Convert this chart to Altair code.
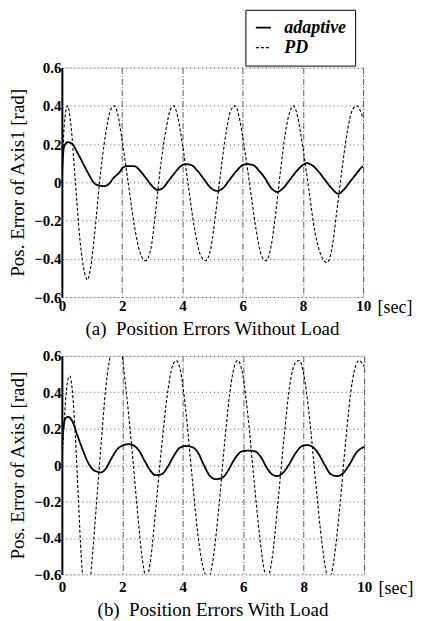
import altair as alt
import pandas as pd

# ---------- data ----------
# (a) without load
a_pd_t = [0, 0.08, 0.19, 0.3, 0.45, 0.6, 0.75, 0.85, 0.95, 1.1, 1.25, 1.45, 1.6, 1.73, 1.85, 2.0, 2.2, 2.4, 2.6, 2.78,
          2.95, 3.1, 3.25, 3.45, 3.6, 3.71, 3.85, 4.0, 4.2, 4.4, 4.6, 4.77, 4.95, 5.1, 5.27, 5.45, 5.62, 5.76, 5.9, 6.05,
          6.25, 6.45, 6.62, 6.78, 6.95, 7.1, 7.25, 7.42, 7.57, 7.69, 7.83, 8.0, 8.2, 8.4, 8.6, 8.8, 8.97, 9.12, 9.3,
          9.48, 9.65, 9.79, 9.92, 10.0]
a_pd_v = [0.0, 0.3, 0.40, 0.3, 0.0, -0.3, -0.47, -0.51, -0.45, -0.25, 0.0, 0.25, 0.37, 0.40, 0.36, 0.22, 0.0, -0.22,
          -0.37, -0.41, -0.35, -0.17, 0.05, 0.27, 0.38, 0.40, 0.34, 0.2, -0.02, -0.24, -0.38, -0.41, -0.34, -0.17, 0.05,
          0.26, 0.38, 0.40, 0.33, 0.19, -0.03, -0.25, -0.38, -0.41, -0.33, -0.16, 0.05, 0.26, 0.37, 0.40, 0.34, 0.18,
          -0.04, -0.26, -0.38, -0.42, -0.34, -0.16, 0.07, 0.27, 0.38, 0.40, 0.37, 0.33]
a_ad_t = [0, 0.03, 0.08, 0.2, 0.35, 0.5, 0.7, 0.9, 1.05, 1.2, 1.4, 1.55, 1.7, 1.9, 2.05, 2.2, 2.4, 2.6, 2.8, 3.0, 3.17,
          3.35, 3.55, 3.75, 3.95, 4.1, 4.3, 4.5, 4.7, 4.95, 5.15, 5.35, 5.55, 5.8, 6.0, 6.15, 6.35, 6.55, 6.75, 6.95,
          7.14, 7.35, 7.55, 7.8, 8.0, 8.13, 8.3, 8.5, 8.7, 8.95, 9.18, 9.35, 9.55, 9.75, 9.9, 10.0]
a_ad_v = [0.0, 0.12, 0.19, 0.21, 0.2, 0.16, 0.1, 0.04, 0.0, -0.015, -0.02, -0.01, 0.02, 0.05, 0.08, 0.085, 0.085, 0.06,
          0.02, -0.02, -0.04, -0.03, 0.01, 0.05, 0.085, 0.095, 0.09, 0.06, 0.02, -0.03, -0.045, -0.03, 0.01, 0.06, 0.09,
          0.095, 0.09, 0.06, 0.02, -0.03, -0.05, -0.03, 0.01, 0.06, 0.09, 0.1, 0.09, 0.06, 0.02, -0.03, -0.06, -0.04,
          0.0, 0.04, 0.07, 0.085]

# (b) with load
b_pd_t = [0, 0.1, 0.18, 0.26, 0.34, 0.45, 0.55, 0.64, 0.72, 0.8, 0.9, 1.0, 1.15, 1.3, 1.45, 1.6, 1.75, 1.85, 1.95, 2.1,
          2.3, 2.5, 2.65, 2.8, 2.95, 3.1, 3.3, 3.5, 3.65, 3.78, 3.92, 4.1, 4.3, 4.5, 4.7, 4.85, 5.0, 5.2, 5.4, 5.6, 5.72,
          5.82, 5.97, 6.15, 6.35, 6.55, 6.7, 6.8, 6.95, 7.15, 7.35, 7.55, 7.72, 7.86, 8.0, 8.2, 8.4, 8.6, 8.75, 8.85,
          9.0, 9.2, 9.4, 9.6, 9.73, 9.83, 9.93, 10.0]
b_pd_v = [0.0, 0.3, 0.45, 0.49, 0.42, 0.15, -0.2, -0.5, -0.66, -0.72, -0.68, -0.52, -0.2, 0.12, 0.42, 0.6, 0.68, 0.7,
          0.65, 0.45, 0.12, -0.25, -0.5, -0.62, -0.5, -0.25, 0.1, 0.4, 0.54, 0.575, 0.52, 0.3, -0.05, -0.38, -0.58,
          -0.62, -0.52, -0.22, 0.15, 0.45, 0.55, 0.575, 0.51, 0.28, -0.07, -0.4, -0.58, -0.62, -0.52, -0.2, 0.15, 0.45,
          0.56, 0.575, 0.5, 0.25, -0.1, -0.42, -0.59, -0.63, -0.52, -0.22, 0.15, 0.45, 0.55, 0.575, 0.56, 0.54]
b_ad_t = [0, 0.05, 0.1, 0.2, 0.35, 0.5, 0.7, 0.85, 1.0, 1.15, 1.3, 1.45, 1.65, 1.85, 2.05, 2.2, 2.35, 2.55, 2.75, 2.95,
          3.1, 3.3, 3.5, 3.7, 3.9, 4.1, 4.3, 4.5, 4.7, 4.9, 5.1, 5.3, 5.5, 5.7, 5.95, 6.2, 6.4, 6.6, 6.8, 7.0, 7.14, 7.3,
          7.5, 7.75, 7.95, 8.13, 8.3, 8.5, 8.7, 8.9, 9.1, 9.3, 9.5, 9.75, 10.0]
b_ad_v = [0.1, 0.2, 0.25, 0.265, 0.24, 0.17, 0.08, 0.02, -0.02, -0.035, -0.04, -0.02, 0.04, 0.09, 0.11, 0.115, 0.11,
          0.08, 0.02, -0.035, -0.055, -0.05, -0.01, 0.05, 0.095, 0.105, 0.1, 0.07, 0.0, -0.06, -0.077, -0.07, -0.03,
          0.03, 0.075, 0.08, 0.075, 0.04, -0.02, -0.055, -0.06, -0.045, 0.0, 0.07, 0.105, 0.11, 0.1, 0.06, 0.0, -0.05,
          -0.06, -0.045, 0.0, 0.07, 0.1]

series_names = ["adaptive", "PD"]
x_ticks = [0, 2, 4, 6, 8, 10]
y_ticks = [-0.6, -0.4, -0.2, 0, 0.2, 0.4, 0.6]
captions = ["(a)\u00a0 Position Errors Without Load", "(b)\u00a0 Position Errors With Load"]


def frame(ad_t, ad_v, pd_t, pd_v):
    rows = [{"t": t, "v": v, "s": "adaptive", "o": i} for i, (t, v) in enumerate(zip(ad_t, ad_v))]
    rows += [{"t": t, "v": v, "s": "PD", "o": i} for i, (t, v) in enumerate(zip(pd_t, pd_v))]
    return pd.DataFrame(rows)


SERIF = "Liberation Serif"


def panel(df, caption, w, h, label_pad, show_legend):
    if show_legend:
        leg = alt.Legend(
            title=None, orient="none", legendX=184, legendY=-58,
            strokeColor="black", fillColor="white", padding=9,
            labelFont=SERIF, labelFontSize=18, labelFontStyle="italic", labelFontWeight="bold",
            labelColor="black", symbolSize=225, symbolType="stroke", symbolStrokeColor="black",
            labelOffset=12, rowPadding=2
        )
    else:
        leg = None
    x = alt.X("t:Q", scale=alt.Scale(domain=[0, 10], nice=False),
              axis=alt.Axis(values=x_ticks, title="[sec]", titleX=w + 14, titleY=label_pad + 9,
                            titleAlign="left", titleBaseline="middle", titleFont=SERIF, titleFontSize=18,
                            titleFontWeight="normal", titleColor="black",
                            labelFont=SERIF, labelFontSize=15, labelFontWeight="bold", labelColor="black",
                            labelPadding=label_pad, ticks=False, domain=False,
                            grid=True, gridDash=[6, 2, 1, 2], gridColor="#333", gridWidth=0.8,
                            labelFlush=False, labelOverlap=False))
    y = alt.Y("v:Q", scale=alt.Scale(domain=[-0.6, 0.6], nice=False),
              axis=alt.Axis(values=y_ticks, title="Pos. Error of Axis1 [rad]", format="~g",
                            titleFont=SERIF, titleFontSize=19, titleFontWeight="normal", titleColor="black",
                            titlePadding=6,
                            labelFont=SERIF, labelFontSize=15, labelFontWeight="bold", labelColor="black",
                            labelPadding=1, ticks=False, domain=True, domainColor="black", domainWidth=2,
                            grid=True, gridDash=[1, 3], gridColor="#333", gridWidth=0.8,
                            labelFlush=False, labelOverlap=False))
    return alt.Chart(df).mark_line(clip=True, color="black", interpolate="monotone").encode(
        x=x, y=y, order="o:Q",
        strokeDash=alt.StrokeDash("s:N", scale=alt.Scale(domain=series_names, range=[[1, 0], [3, 2]]), legend=leg),
        strokeWidth=alt.StrokeWidth("s:N", scale=alt.Scale(domain=series_names, range=[1.8, 1.1]), legend=leg),
    ).properties(
        width=w, height=h,
        title=alt.TitleParams(caption, orient="bottom", anchor="middle", font=SERIF, fontSize=19,
                              fontWeight="normal", color="black", offset=4)
    )


top = panel(frame(a_ad_t, a_ad_v, a_pd_t, a_pd_v), captions[0], 302, 230, 1, True)
bottom = panel(frame(b_ad_t, b_ad_v, b_pd_t, b_pd_v), captions[1], 303, 219, 5, False)

chart = alt.vconcat(top, bottom, spacing=8).resolve_scale(
    strokeDash="independent", strokeWidth="independent"
).properties(padding=0).configure_view(stroke=None).configure(background="white")

chart.save("out.html", embed_options={"renderer": "svg", "actions": False})
